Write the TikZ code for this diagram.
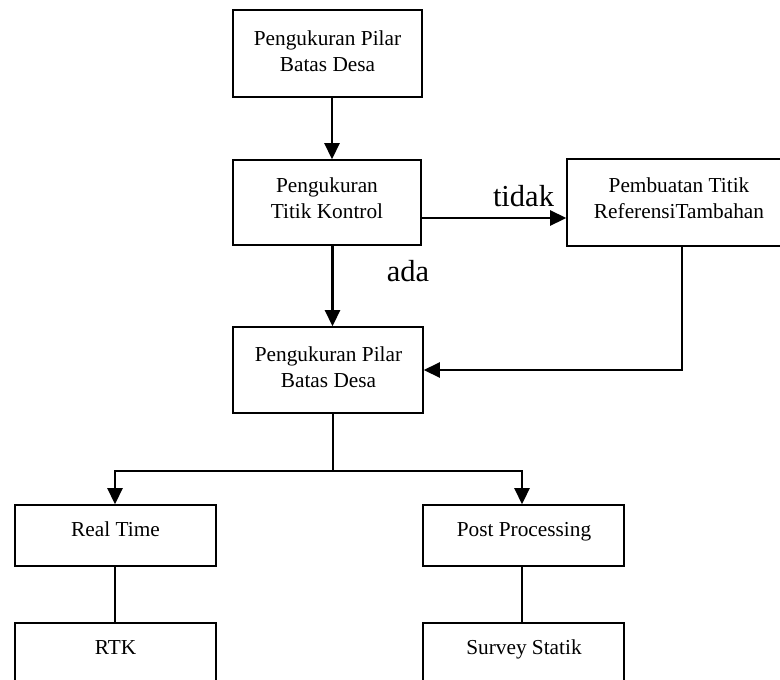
\documentclass[tikz,border=0pt]{standalone}
\usepackage{fontspec}
\setmainfont{Liberation Serif}
\usetikzlibrary{arrows.meta}
\begin{document}
\begin{tikzpicture}[x=1pt,y=-1pt,
  box/.style={draw,line width=1.6pt,inner sep=0pt},
  txt/.style={font=\fontsize{21.3}{25.6}\selectfont,align=center,inner sep=0pt},
  one/.style={txt,anchor=base},
  lbl/.style={font=\fontsize{30.5}{36}\selectfont,inner sep=0pt},
  arr/.style={line width=2.6pt,-{Triangle[length=16pt,width=15pt]}},
  conn/.style={line width=2pt}]
\useasboundingbox (0,0) rectangle (780,680);
% boxes
\node[box,minimum width=189pt,minimum height=87pt] (b1) at (327.5,53.5) {};
\node[box,minimum width=188pt,minimum height=85pt] (b2) at (327,202.5) {};
\node[box,minimum width=224pt,minimum height=87pt] (b3) at (679,202.5) {};
\node[box,minimum width=190pt,minimum height=86pt] (b4) at (328,370) {};
\node[box,minimum width=201pt,minimum height=61pt] (rt) at (115.5,535.5) {};
\node[box,minimum width=201pt,minimum height=61pt] (pp) at (523.5,535.5) {};
\node[box,minimum width=201pt,minimum height=61pt] (rtk) at (115.5,653.5) {};
\node[box,minimum width=201pt,minimum height=61pt] (ss) at (523.5,653.5) {};
% texts
\node[txt] (t1) at (327.5,51) {Pengukuran Pilar\\Batas Desa};
\node[txt] (t2) at (327,198) {Pengukuran\\Titik Kontrol};
\node[txt] (t3) at (679,198) {Pembuatan Titik\\ReferensiTambahan};
\node[txt] (t4) at (328.5,367) {Pengukuran Pilar\\Batas Desa};
\node[one] (trt) at (115.5,536) {Real Time};
\node[one] (tpp) at (524,536) {Post Processing};
\node[one] (trtk) at (115.5,654) {RTK};
\node[one] (tss) at (524,654) {Survey Statik};
% labels
\node[lbl] (tidak) at (523.5,196) {tidak};
\node[lbl] (ada) at (408,271) {ada};
% connectors
\draw[arr] ([xshift=4.5pt]b1.south) -- ([xshift=5pt]b2.north);
\draw[arr] ([yshift=-15.5pt]b2.east) -- ([yshift=-15.5pt]b3.west);
\draw[arr] ([xshift=5.5pt]b2.south) -- ([xshift=4.5pt]b4.north);
\draw[arr] ([xshift=3pt]b3.south) |- (b4.east);
\coordinate (j) at (332.5,471);
\draw[conn] ([xshift=4.5pt]b4.south) -- (j);
\draw[arr] (j) -| ([xshift=-0.5pt]rt.north);
\draw[arr] (j) -| ([xshift=-1.5pt]pp.north);
\draw[conn] ([xshift=-0.5pt]rt.south) -- ([xshift=-0.5pt]rtk.north);
\draw[conn] ([xshift=-1.5pt]pp.south) -- ([xshift=-1.5pt]ss.north);
\end{tikzpicture}
\end{document}
